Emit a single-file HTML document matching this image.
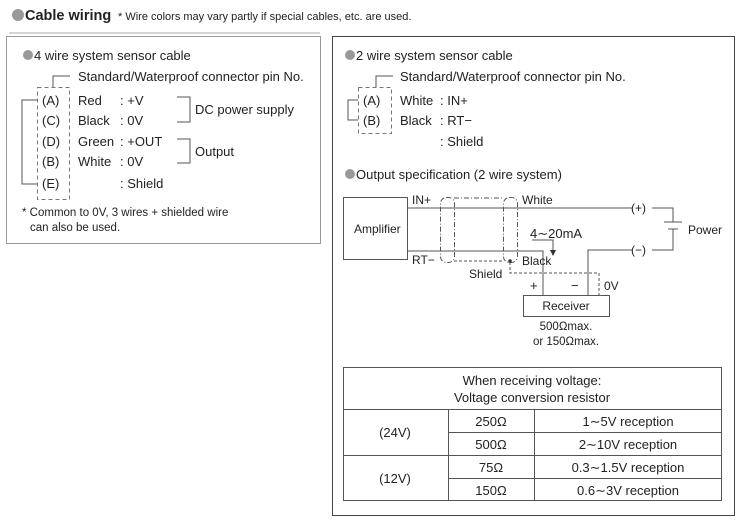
<!DOCTYPE html>
<html><head><meta charset="utf-8"><style>
html,body{margin:0;padding:0;background:#fff;}
svg{display:block;font-family:"Liberation Sans",sans-serif;}
text{fill:#222;font-size:13px;}
</style></head><body>
<svg width="745" height="530" viewBox="0 0 745 530" xmlns="http://www.w3.org/2000/svg">
<circle cx="18" cy="15" r="6" fill="#999"/>
<text x="25" y="20" style="font-size:14.5px;font-weight:bold">Cable wiring</text>
<text x="118" y="20" style="font-size:11px">* Wire colors may vary partly if special cables, etc. are used.</text>
<line x1="9" y1="33" x2="320" y2="33" stroke="#aaa" stroke-width="1"/>

<rect x="6.5" y="36.5" width="314" height="207" fill="none" stroke="#999"/>
<circle cx="28" cy="55" r="5" fill="#999"/>
<text x="34" y="60">4 wire system sensor cable</text>
<g stroke="#555" fill="none">
<path d="M53 87 V76 H70"/>
<rect x="37.5" y="87.5" width="32" height="112" stroke-dasharray="4,3" stroke="#777"/>
<path d="M37 100 H22 V184 H37"/>
<path d="M177 97 H190 V122 H177"/>
<path d="M177 139 H190 V163 H177"/>
</g>
<text x="78" y="81">Standard/Waterproof connector pin No.</text>
<text x="42" y="105">(A)</text><text x="78" y="105">Red</text><text x="120" y="105">: +V</text>
<text x="42" y="125">(C)</text><text x="78" y="125">Black</text><text x="120" y="125">: 0V</text>
<text x="42" y="146">(D)</text><text x="78" y="146">Green</text><text x="120" y="146">: +OUT</text>
<text x="42" y="166">(B)</text><text x="78" y="166">White</text><text x="120" y="166">: 0V</text>
<text x="42" y="188">(E)</text><text x="120" y="188">: Shield</text>
<text x="195" y="114">DC power supply</text>
<text x="195" y="156">Output</text>
<text x="22" y="216" style="font-size:11.5px">* Common to 0V, 3 wires + shielded wire</text>
<text x="30" y="231" style="font-size:11.5px">can also be used.</text>

<rect x="332.5" y="36.5" width="402" height="479" fill="none" stroke="#444"/>
<circle cx="350" cy="55" r="5" fill="#999"/>
<text x="356" y="60">2 wire system sensor cable</text>
<g stroke="#555" fill="none">
<path d="M376 87 V76 H393"/>
<rect x="358.5" y="87.5" width="33" height="46" stroke-dasharray="4,3" stroke="#777"/>
<path d="M358 100 H348 V120 H358"/>
</g>
<text x="400" y="81">Standard/Waterproof connector pin No.</text>
<text x="363" y="105">(A)</text><text x="400" y="105">White</text><text x="440" y="105">: IN+</text>
<text x="363" y="125">(B)</text><text x="400" y="125">Black</text><text x="440" y="125">: RT−</text>
<text x="440" y="146">: Shield</text>

<circle cx="350" cy="174" r="5" fill="#999"/>
<text x="356" y="179">Output specification (2 wire system)</text>

<g stroke="#555" fill="none" stroke-width="1">
<rect x="343.5" y="197.5" width="64" height="62"/>
<path d="M408 208 H632"/>
<path d="M652 208 H673 V222"/>
<path d="M664 222 H682"/>
<path d="M668 229 H678"/>
<path d="M673 229 V250 H652"/>
<path d="M632 250 H588 V295"/>
<path d="M408 251 H543 V295"/>
<rect x="523.5" y="295.5" width="86" height="21"/>
<path d="M532 240 H553 V250"/>
<rect x="440.5" y="197.5" width="14" height="65" rx="6" stroke-dasharray="5,2,1,2"/>
<rect x="503.5" y="197.5" width="14" height="65" rx="6" stroke-dasharray="5,2,1,2"/>
<path d="M454 198 H503" stroke-dasharray="5,2,1,2"/>
<path d="M454 261 H503" stroke-dasharray="3,2"/>
<path d="M510 262 V273 H599 V295" stroke-dasharray="3,2"/>
</g>
<path d="M550 250 L553 256 L556 250 Z" fill="#333"/>
<circle cx="510" cy="261" r="1.8" fill="#333"/>
<text x="354" y="233" style="font-size:12px">Amplifier</text>
<text x="412" y="204" style="font-size:12px">IN+</text>
<text x="412" y="264" style="font-size:12px">RT−</text>
<text x="522" y="204" style="font-size:12px">White</text>
<text x="522" y="265" style="font-size:12px">Black</text>
<text x="469" y="278" style="font-size:12px">Shield</text>
<text x="530" y="238">4∼20mA</text>
<text x="631" y="212" style="font-size:12px">(+)</text>
<text x="631" y="254" style="font-size:12px">(−)</text>
<text x="688" y="234" style="font-size:12px">Power</text>
<text x="530" y="290">+</text>
<text x="571" y="290">−</text>
<text x="604" y="290" style="font-size:12px">0V</text>
<text x="566" y="310" text-anchor="middle" style="font-size:12px">Receiver</text>
<text x="566" y="330" text-anchor="middle" style="font-size:11.5px">500Ωmax.</text>
<text x="566" y="345" text-anchor="middle" style="font-size:11.5px">or 150Ωmax.</text>

<g stroke="#555" fill="none">
<rect x="343.5" y="367.5" width="378" height="133"/>
<path d="M343 409.5 H722 M448 432.5 H722 M343 455.5 H722 M448 478.5 H722 M448.5 409 V501 M534.5 409 V501"/>
</g>
<text x="532" y="385" text-anchor="middle">When receiving voltage:</text>
<text x="532" y="402" text-anchor="middle">Voltage conversion resistor</text>
<text x="395" y="437" text-anchor="middle">(24V)</text>
<text x="395" y="483" text-anchor="middle">(12V)</text>
<text x="491" y="426" text-anchor="middle">250Ω</text>
<text x="491" y="449" text-anchor="middle">500Ω</text>
<text x="491" y="472" text-anchor="middle">75Ω</text>
<text x="491" y="495" text-anchor="middle">150Ω</text>
<text x="628" y="426" text-anchor="middle">1∼5V reception</text>
<text x="628" y="449" text-anchor="middle">2∼10V reception</text>
<text x="628" y="472" text-anchor="middle">0.3∼1.5V reception</text>
<text x="628" y="495" text-anchor="middle">0.6∼3V reception</text>
</svg>
</body></html>
